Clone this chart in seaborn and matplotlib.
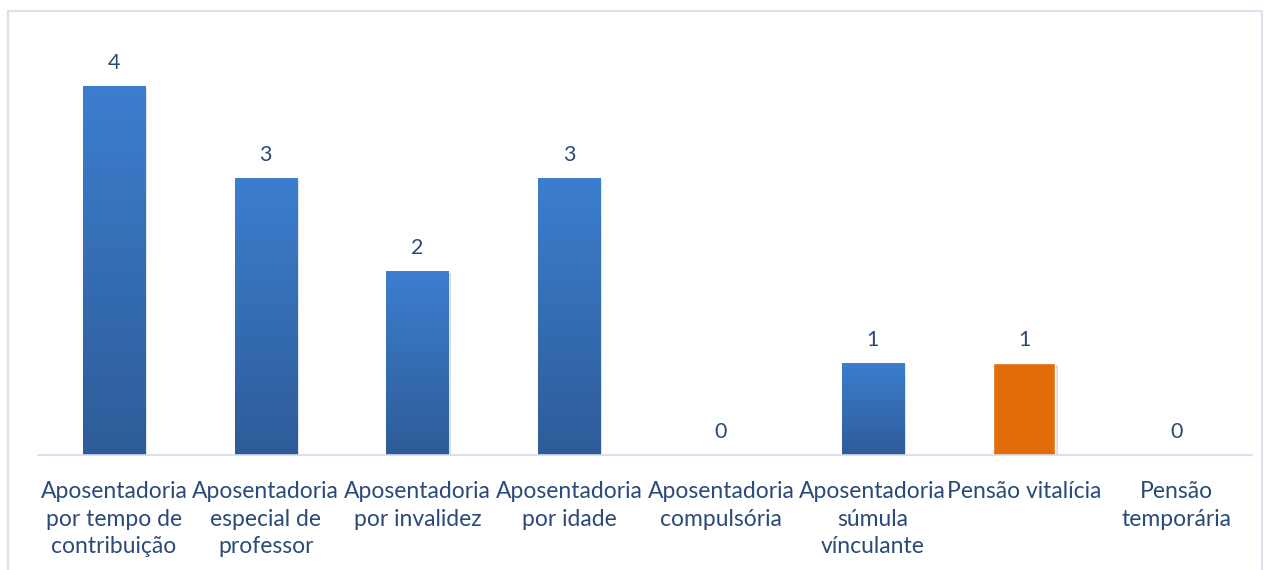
import numpy as np
import pandas as pd
import seaborn as sns
import matplotlib.pyplot as plt
from matplotlib.patches import Rectangle
from matplotlib import patheffects as pe
from matplotlib.colors import LinearSegmentedColormap

# Chart data
categories = ['Aposentadoria\npor tempo de\ncontribuição',
              'Aposentadoria\nespecial de\nprofessor',
              'Aposentadoria\npor invalidez',
              'Aposentadoria\npor idade',
              'Aposentadoria\ncompulsória',
              'Aposentadoria\nsúmula\nvínculante',
              'Pensão vitalícia',
              'Pensão\ntemporária']
values = [4, 3, 2, 3, 0, 1, 1, 0]
highlight = 'Pensão vitalícia'

df = pd.DataFrame({'tipo': categories, 'qtd': values})

sns.set_style('white')
plt.rcParams['font.family'] = ['Lato', 'DejaVu Sans']

text_color = '#2a4a7b'
fig = plt.figure(figsize=(12.69, 5.70), dpi=100)
W, H = 1269, 570
ax = fig.add_axes([38 / W, 115 / H, (1252 - 38) / W, (455 - 21) / H])

sns.barplot(data=df, x='tipo', y='qtd', color='#3a7bcb', width=0.41, ax=ax,
            saturation=1)

# gradient fill for blue bars, flat orange for the highlighted one
grad = np.linspace(0, 1, 256).reshape(-1, 1)
cmap = LinearSegmentedColormap.from_list('blue', ['#2e5c98', '#3c7ecf'])
for patch, cat in zip(ax.patches, categories):
    patch.set_path_effects([pe.SimplePatchShadow(offset=(1.5, -1.5), shadow_rgbFace='#888888', alpha=0.3),
                            pe.Normal()])
    if cat == highlight:
        patch.set_facecolor('#e36c0a')
        continue
    x0, y0 = patch.get_x(), patch.get_y()
    w, h = patch.get_width(), patch.get_height()
    if h <= 0:
        continue
    im = ax.imshow(grad, extent=[x0, x0 + w, y0, y0 + h], origin='lower', cmap=cmap,
                   aspect='auto', zorder=patch.get_zorder() + 0.1)
    im.set_clip_path(patch)

for i, v in enumerate(values):
    ax.text(i, v + 0.14, str(v), ha='center', va='bottom', fontsize=15.5, color=text_color)

ax.set_xlim(-0.5, len(categories) - 0.5)
ax.set_ylim(0, 434 / 92.25)
ax.set_xlabel('')
ax.set_ylabel('')
ax.set_yticks([])
ax.tick_params(axis='x', length=0, pad=19, labelsize=16.5, labelcolor=text_color)
for lbl in ax.get_xticklabels():
    lbl.set_linespacing(1.38)
for s in ['top', 'right', 'left']:
    ax.spines[s].set_visible(False)
ax.spines['bottom'].set_color('#cfdcee')
ax.spines['bottom'].set_linewidth(1.2)

# chart frame
fig.patches.append(Rectangle((8 / W, -0.01), (1262 - 8) / W, (570 - 11) / H + 0.01,
                             transform=fig.transFigure, fill=False,
                             edgecolor='#d9e2ef', linewidth=1.5))

fig.savefig('out.png', dpi=100)
